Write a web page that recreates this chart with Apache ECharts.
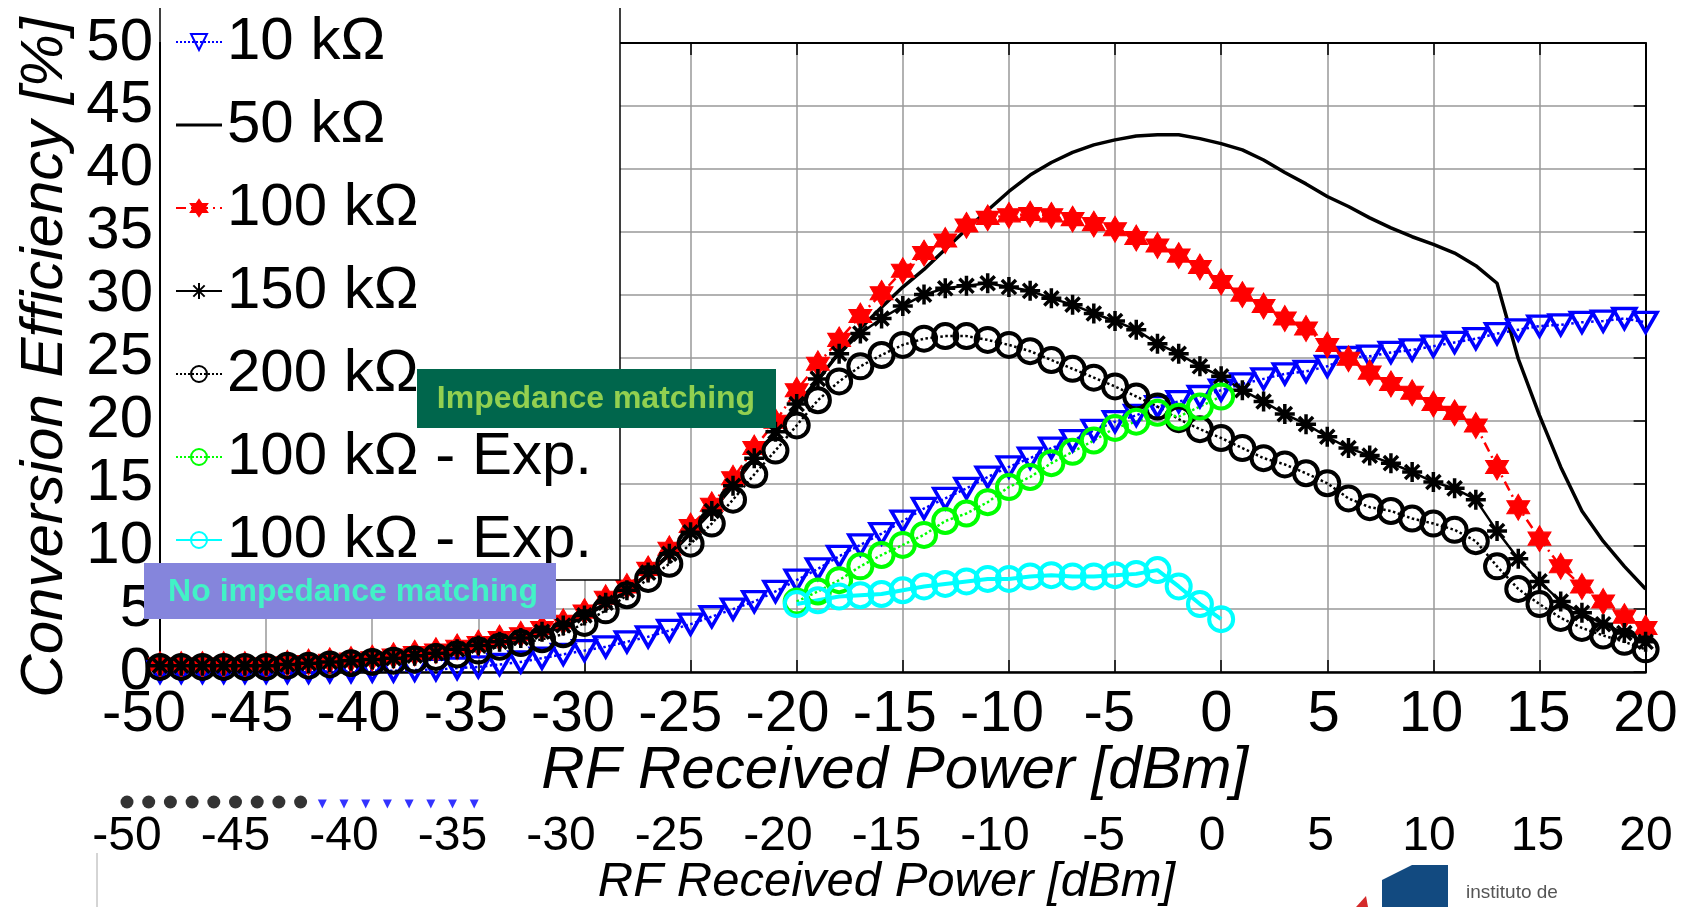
<!DOCTYPE html>
<html>
<head>
<meta charset="utf-8">
<title>Conversion Efficiency vs RF Received Power</title>
<script src="https://cdn.jsdelivr.net/npm/echarts@6/dist/echarts.min.js"></script>
<style>
  html, body { margin: 0; padding: 0; background: #fff; }
  #chart-container { width: 1694px; height: 907px; }
</style>
</head>
<body>
<div id="chart-container"></div>
<script>
// RF received power [dBm], simulated sweeps
const power = [-50, -49, -48, -47, -46, -45, -44, -43, -42, -41,
    -40, -39, -38, -37, -36, -35, -34, -33, -32, -31,
    -30, -29, -28, -27, -26, -25, -24, -23, -22, -21,
    -20, -19, -18, -17, -16, -15, -14, -13, -12, -11,
    -10, -9, -8, -7, -6, -5, -4, -3, -2, -1,
    0, 1, 2, 3, 4, 5, 6, 7, 8, 9,
    10, 11, 12, 13, 14, 15, 16, 17, 18, 19, 20];
// measured sweeps
const expPower = [-20, -19, -18, -17, -16, -15, -14, -13, -12, -11,
    -10, -9, -8, -7, -6, -5, -4, -3, -2, -1, 0];

// conversion efficiency [%]
const eff10k = [0.0, 0.0, 0.0, 0.0, 0.0, 0.0, 0.0, 0.0, 0.05, 0.05,
    0.1, 0.1, 0.15, 0.2, 0.3, 0.4, 0.6, 0.8, 1.1, 1.4,
    1.7, 2.0, 2.4, 2.8, 3.3, 3.8, 4.4, 5.0, 5.6, 6.4,
    7.3, 8.2, 9.2, 10.1, 11.0, 12.0, 13.0, 13.8, 14.6, 15.5,
    16.3, 17.0, 17.8, 18.4, 19.2, 19.9, 20.4, 21.1, 21.5, 21.9,
    22.4, 22.9, 23.3, 23.7, 23.9, 24.3, 25.0, 25.1, 25.4, 25.6,
    25.9, 26.2, 26.5, 26.9, 27.2, 27.5, 27.6, 27.8, 27.9, 28.1, 27.8];
const eff50k = [0.3, 0.3, 0.3, 0.3, 0.3, 0.3, 0.4, 0.4, 0.5, 0.6,
    0.7, 0.8, 1.0, 1.2, 1.5, 1.8, 2.2, 2.6, 3.1, 3.6,
    4.4, 5.4, 6.4, 7.8, 9.3, 11.0, 12.8, 14.8, 17.0, 19.0,
    21.0, 23.2, 25.4, 27.3, 29.0, 30.6, 32.0, 33.6, 35.2, 36.7,
    38.2, 39.5, 40.5, 41.3, 41.9, 42.3, 42.6, 42.7, 42.7, 42.4,
    42.0, 41.5, 40.7, 39.7, 38.8, 37.8, 37.0, 36.1, 35.3, 34.6,
    34.0, 33.3, 32.3, 30.9, 24.9, 20.4, 16.3, 12.8, 10.4, 8.4, 6.6];
const eff100k = [0.6, 0.6, 0.6, 0.6, 0.6, 0.6, 0.7, 0.8, 0.9, 1.0,
    1.1, 1.3, 1.5, 1.7, 2.0, 2.3, 2.7, 3.0, 3.5, 4.0,
    4.8, 5.9, 6.8, 8.2, 9.8, 11.6, 13.3, 15.4, 17.8, 19.9,
    22.4, 24.5, 26.4, 28.3, 30.1, 31.9, 33.3, 34.3, 35.5, 36.1,
    36.3, 36.4, 36.3, 36.0, 35.6, 35.2, 34.5, 33.9, 33.1, 32.2,
    31.0, 30.0, 29.1, 28.1, 27.3, 26.0, 24.9, 23.8, 22.9, 22.2,
    21.3, 20.6, 19.6, 16.3, 13.1, 10.6, 8.4, 6.8, 5.6, 4.4, 3.5];
const eff150k = [0.5, 0.5, 0.5, 0.5, 0.5, 0.5, 0.6, 0.7, 0.8, 0.9,
    1.0, 1.1, 1.3, 1.5, 1.8, 2.1, 2.4, 2.7, 3.2, 3.7,
    4.5, 5.5, 6.5, 7.9, 9.4, 11.1, 12.8, 14.8, 17.0, 19.1,
    21.3, 23.3, 25.3, 26.9, 28.1, 29.1, 30.0, 30.5, 30.7, 30.9,
    30.6, 30.3, 29.7, 29.2, 28.5, 27.9, 27.2, 26.1, 25.3, 24.3,
    23.5, 22.4, 21.5, 20.5, 19.7, 18.7, 17.8, 17.2, 16.6, 15.9,
    15.1, 14.6, 13.7, 11.2, 9.0, 7.2, 5.6, 4.7, 3.8, 3.1, 2.4];
const eff200k = [0.4, 0.4, 0.4, 0.4, 0.4, 0.4, 0.5, 0.5, 0.6, 0.7,
    0.8, 0.9, 1.0, 1.2, 1.4, 1.7, 2.0, 2.3, 2.6, 3.0,
    3.9, 4.9, 6.1, 7.4, 8.6, 10.2, 11.8, 13.7, 15.7, 17.6,
    19.6, 21.6, 23.1, 24.3, 25.2, 26.0, 26.5, 26.7, 26.7, 26.4,
    26.0, 25.5, 24.8, 24.1, 23.4, 22.7, 21.9, 21.1, 20.1, 19.3,
    18.6, 17.8, 17.0, 16.5, 15.8, 15.0, 13.8, 13.1, 12.8, 12.2,
    11.8, 11.3, 10.4, 8.4, 6.6, 5.4, 4.3, 3.5, 2.9, 2.4, 1.8];
const effExpMatched = [5.6, 6.4, 7.3, 8.4, 9.3, 10.1, 10.9, 12.0, 12.6, 13.5,
    14.7, 15.5, 16.6, 17.5, 18.4, 19.4, 19.9, 20.6, 20.3, 21.1, 21.9];
const effExpUnmatched = [5.4, 5.7, 6.0, 6.1, 6.2, 6.5, 6.8, 7.0, 7.2, 7.4,
    7.4, 7.6, 7.7, 7.6, 7.6, 7.7, 7.8, 8.1, 6.8, 5.4, 4.2];

// remnants of the lower (cropped) plot
const ghostCircleX = [-50, -49, -48, -47, -46, -45, -44, -43, -42];
const ghostCircleY = [4, 4, 4, 4, 4, 4, 4, 4, 4];
const ghostTriX = [-41, -40, -39, -38, -37, -36, -35, -34];
const ghostTriY = [3, 3, 3, 3, 3, 3, 3, 3];

const seriesNames = ['10 kΩ', '50 kΩ', '100 kΩ', '150 kΩ', '200 kΩ', '100 kΩ - Exp.', '100 kΩ - Exp. '];

const font = '"Liberation Sans", Arial, sans-serif';
const hexagram = 'path://M0,-10L2.887,-5L8.66,-5L5.774,0L8.66,5L2.887,5L0,10L-2.887,5L-8.66,5L-5.774,0L-8.66,-5L-2.887,-5Z';
const asterisk = 'path://M0,-10L0,10M-10,0L10,0M-7.07,-7.07L7.07,7.07M-7.07,7.07L7.07,-7.07';
const plainLine = 'path://M0,0L100,0L100,7L0,7Z';
const clear = 'rgba(0,0,0,0)';

const pairs = (xs, ys) => xs.map((x, i) => [x, ys[i]]);

function curve(name, xs, ys, extra) {
    return Object.assign({
        type: 'line',
        name: name,
        data: pairs(xs, ys),
        xAxisIndex: 0,
        yAxisIndex: 0,
        showAllSymbol: true,
        animation: false
    }, extra);
}

const chart = echarts.init(document.getElementById('chart-container'));

const valueAxisLabel = { fontFamily: font, color: '#000' };
const frameTick = { show: true, inside: true, length: 12, lineStyle: { color: '#000', width: 1.5 } };

const option = {
    backgroundColor: '#fff',
    animation: false,
    grid: [
        { left: 160, top: 43, width: 1485.6, height: 629, outerBoundsMode: 'none' },
        { left: 144, top: 671, width: 1501.5, height: 1, outerBoundsMode: 'none' },
        { left: 127, top: 790, width: 1519, height: 20, outerBoundsMode: 'none' }
    ],
    xAxis: [
        {
            gridIndex: 0, type: 'value', position: 'bottom', min: -50, max: 20, interval: 5,
            axisLine: { show: true, onZero: false, lineStyle: { color: '#000', width: 2.5 } },
            axisTick: frameTick,
            axisLabel: { show: false },
            splitLine: { show: true, lineStyle: { color: '#999', width: 1.5 } }
        },
        {
            gridIndex: 0, type: 'value', position: 'top', min: -50, max: 20, interval: 5,
            axisLine: { show: true, onZero: false, lineStyle: { color: '#000', width: 2 } },
            axisTick: frameTick,
            axisLabel: { show: false },
            splitLine: { show: false }
        },
        {
            gridIndex: 1, type: 'value', position: 'bottom', min: -50, max: 20, interval: 5,
            axisLine: { show: false, onZero: false },
            axisTick: { show: false },
            splitLine: { show: false },
            axisLabel: Object.assign({ fontSize: 58, margin: 14 }, valueAxisLabel),
            name: 'RF Received Power [dBm]',
            nameLocation: 'middle',
            nameGap: 69,
            nameMoveOverlap: false,
            nameTextStyle: { fontSize: 60, fontStyle: 'italic', fontFamily: font, color: '#000' }
        },
        {
            gridIndex: 2, type: 'value', position: 'bottom', min: -50, max: 20, interval: 5,
            axisLine: { show: false, onZero: false },
            axisTick: { show: false },
            splitLine: { show: false },
            axisLabel: Object.assign({ fontSize: 48, margin: 3 }, valueAxisLabel),
            name: 'RF Received Power [dBm]',
            nameLocation: 'middle',
            nameGap: 48,
            nameMoveOverlap: false,
            nameTextStyle: { fontSize: 49, fontStyle: 'italic', fontFamily: font, color: '#000' }
        }
    ],
    yAxis: [
        {
            gridIndex: 0, type: 'value', position: 'left', min: 0, max: 50, interval: 5,
            axisLine: { show: true, onZero: false, lineStyle: { color: '#000', width: 2 } },
            axisTick: frameTick,
            axisLabel: Object.assign({ fontSize: 60, margin: 7 }, valueAxisLabel),
            splitLine: { show: true, lineStyle: { color: '#999', width: 1.5 } },
            name: 'Conversion Efficiency [%]',
            nameLocation: 'middle',
            nameGap: 85,
            nameMoveOverlap: false,
            nameTextStyle: { fontSize: 60, fontStyle: 'italic', fontFamily: font, color: '#000' }
        },
        {
            gridIndex: 0, type: 'value', position: 'right', min: 0, max: 50, interval: 5,
            axisLine: { show: true, onZero: false, lineStyle: { color: '#000', width: 2 } },
            axisTick: frameTick,
            axisLabel: { show: false },
            splitLine: { show: false }
        },
        { gridIndex: 1, type: 'value', show: false, min: 0, max: 1 },
        { gridIndex: 2, type: 'value', show: false, min: 0, max: 10 }
    ],
    legend: {
        data: seriesNames.map(n => n === '50 kΩ' ? { name: n, icon: plainLine } : n),
        orient: 'vertical',
        left: 170,
        top: 7,
        itemGap: 23,
        itemWidth: 46,
        itemHeight: 20,
        selectedMode: false,
        z: 20,
        textStyle: { fontSize: 60, lineHeight: 60, fontFamily: font, color: '#000' }
    },
    series: [
        curve(seriesNames[0], power, eff10k, {
            symbol: 'triangle', symbolRotate: 180, symbolSize: [23, 20],
            lineStyle: { color: '#0000ff', width: 2.5, type: 'dotted' },
            itemStyle: { color: clear, borderColor: '#0000ff', borderWidth: 3.5 }
        }),
        curve(seriesNames[1], power, eff50k, {
            symbol: 'none',
            lineStyle: { color: '#000', width: 3.5 },
            itemStyle: { color: '#000' }
        }),
        curve(seriesNames[2], power, eff100k, {
            symbol: hexagram, symbolSize: [23, 26],
            lineStyle: { color: '#ff0000', width: 2.5, type: [10, 5, 2, 5] },
            itemStyle: { color: '#ff0000', borderColor: '#ff0000', borderWidth: 1 }
        }),
        curve(seriesNames[3], power, eff150k, {
            symbol: asterisk, symbolSize: 20,
            lineStyle: { color: '#000', width: 2.5 },
            itemStyle: { color: '#000', borderColor: '#000', borderWidth: 3.5 }
        }),
        curve(seriesNames[4], power, eff200k, {
            symbol: 'circle', symbolSize: 24,
            lineStyle: { color: '#000', width: 2.5, type: 'dotted' },
            itemStyle: { color: clear, borderColor: '#000', borderWidth: 4 }
        }),
        curve(seriesNames[5], expPower, effExpMatched, {
            symbol: 'circle', symbolSize: 24,
            lineStyle: { color: '#00ff00', width: 2.5, type: 'dotted' },
            itemStyle: { color: clear, borderColor: '#00ff00', borderWidth: 4 }
        }),
        curve(seriesNames[6], expPower, effExpUnmatched, {
            symbol: 'circle', symbolSize: 24,
            lineStyle: { color: '#00ffff', width: 4 },
            itemStyle: { color: clear, borderColor: '#00ffff', borderWidth: 4 }
        }),
        {
            type: 'scatter', name: 'ghost-circles', xAxisIndex: 3, yAxisIndex: 3,
            data: pairs(ghostCircleX, ghostCircleY), symbol: 'circle', symbolSize: 13,
            itemStyle: { color: '#000' }, animation: false
        },
        {
            type: 'scatter', name: 'ghost-triangles', xAxisIndex: 3, yAxisIndex: 3,
            data: pairs(ghostTriX, ghostTriY), symbol: 'triangle', symbolRotate: 180, symbolSize: [9, 9],
            itemStyle: { color: '#0000ff' }, animation: false
        }
    ],
    graphic: [
        // legend box
        { type: 'rect', z: 10, shape: { x: 161, y: 8, width: 459, height: 572 }, style: { fill: '#fff' } },
        { type: 'polyline', z: 11, shape: { points: [[160, 8], [160, 580], [620, 580], [620, 8]] },
          style: { stroke: '#000', lineWidth: 1.5, fill: 'none' } },
        // annotations
        { type: 'rect', z: 30, shape: { x: 417, y: 369, width: 359, height: 59 }, style: { fill: '#00664c' } },
        { type: 'text', z: 31, x: 596, y: 399,
          style: { text: 'Impedance matching', fill: '#92d050', font: 'bold 32px ' + font, align: 'center', verticalAlign: 'middle' } },
        { type: 'rect', z: 30, shape: { x: 144, y: 563, width: 412, height: 56 }, style: { fill: '#8585dc' } },
        { type: 'text', z: 31, x: 353, y: 592,
          style: { text: 'No impedance matching', fill: '#42f2c6', font: 'bold 32px ' + font, align: 'center', verticalAlign: 'middle' } },
        // bottom slide leftovers
        { type: 'line', z: 5, shape: { x1: 97, y1: 853, x2: 97, y2: 907 }, style: { stroke: '#aaa', lineWidth: 1 } },
        { type: 'polygon', z: 5, shape: { points: [[1382, 880], [1412, 865], [1448, 865], [1448, 907], [1382, 907]] },
          style: { fill: '#124a80' } },
        { type: 'polygon', z: 5, shape: { points: [[1356, 907], [1366, 896], [1368, 907]] }, style: { fill: '#d42a2a' } },
        { type: 'text', z: 5, x: 1466, y: 893,
          style: { text: 'instituto de', fill: '#555', font: '19px ' + font, verticalAlign: 'middle' } }
    ]
};

chart.setOption(option);
</script>
</body>
</html>
